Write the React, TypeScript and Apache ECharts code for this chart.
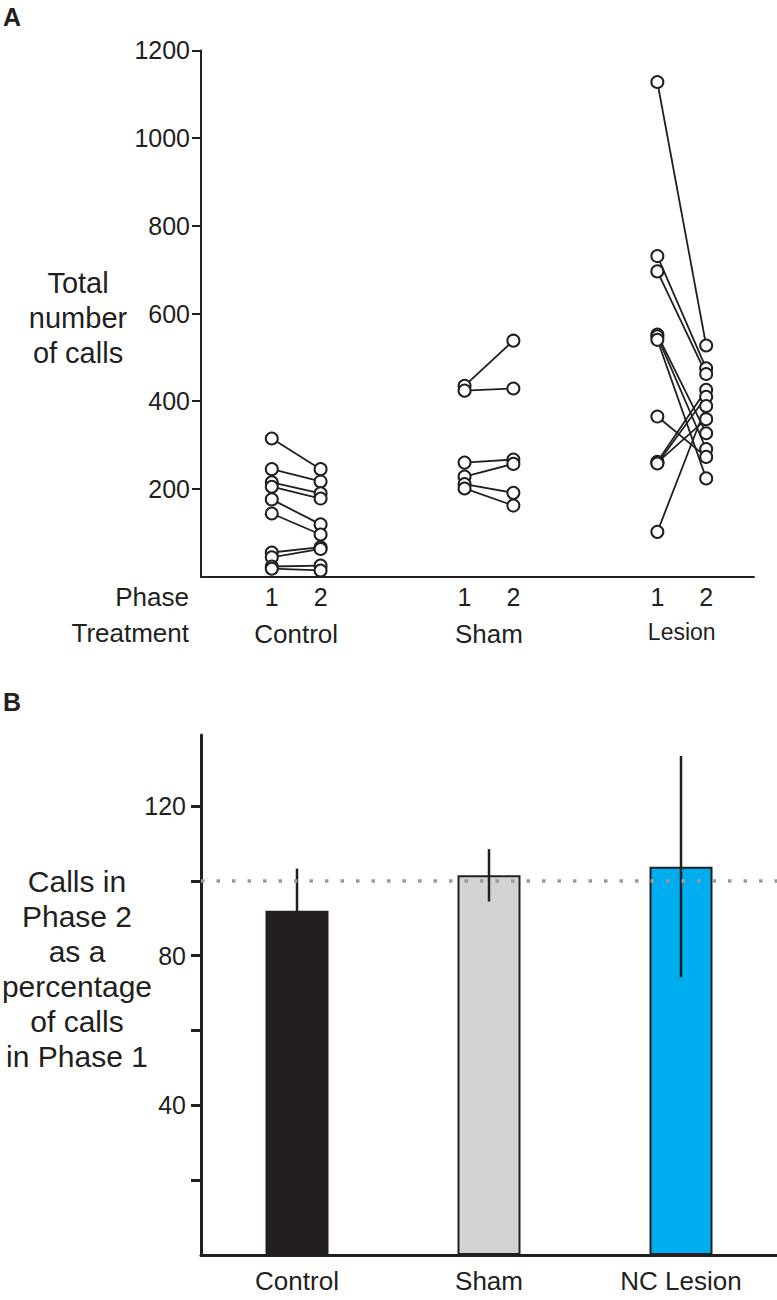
import React, { useEffect, useRef } from "react";
import * as echarts from "echarts";

// ---------- Panel A data ----------
const GROUPS = ["Control", "Sham", "Lesion"];
const PHASES = ["1", "2"];
const CONTROL_P1 = [315, 245, 215, 205, 176, 144, 55, 44, 23, 18];
const CONTROL_P2 = [245, 217, 190, 178, 119, 96, 67, 63, 25, 14];
const SHAM_P1 = [435, 424, 260, 228, 211, 201];
const SHAM_P2 = [538, 429, 267, 257, 191, 162];
const LESION_P1 = [1128, 731, 696, 552, 548, 540, 365, 262, 260, 258, 102];
const LESION_P2 = [527, 475, 462, 327, 291, 224, 273, 426, 359, 410, 389];
const Y_TICKS_A = [200, 400, 600, 800, 1000, 1200];

// ---------- Panel B data ----------
const BAR_CATEGORIES = ["Control", "Sham", "NC Lesion"];
const BAR_MEANS = [92, 101.5, 103.8];
const BAR_SEM = [11.3, 7, 29.6];
const REFERENCE_LINE = 100;
const Y_TICKS_B = [20, 40, 60, 80, 100, 120];
const Y_LABELS_B = [40, 80, 120];

const FONT = '"Liberation Sans", Arial, Helvetica, sans-serif';
const INK = "#231f20";

// x scale of panel A: group g, phase p -> position
const xPos = (g: number, p: number) => 1.45 + g * 3.95 + p;

export default function App() {
  const ref = useRef<HTMLDivElement>(null);

  useEffect(() => {
    if (!ref.current) return;
    const chart = echarts.init(ref.current, null, { renderer: "svg" });

    const groupData = [
      [CONTROL_P1, CONTROL_P2],
      [SHAM_P1, SHAM_P2],
      [LESION_P1, LESION_P2],
    ];

    const lineSeries: any[] = [];
    const points: number[][] = [];
    groupData.forEach(([p1, p2], g) => {
      p1.forEach((v, i) => {
        lineSeries.push({
          type: "line",
          xAxisIndex: 0,
          yAxisIndex: 0,
          data: [
            [xPos(g, 0), v],
            [xPos(g, 1), p2[i]],
          ],
          showSymbol: false,
          symbol: "none",
          lineStyle: { color: INK, width: 1.8 },
          z: 2,
          silent: true,
        });
        points.push([xPos(g, 0), v]);
        points.push([xPos(g, 1), p2[i]]);
      });
    });

    const phaseValues: number[] = [];
    const phaseLabels: Record<string, string> = {};
    GROUPS.forEach((_, g) =>
      PHASES.forEach((ph, p) => {
        phaseValues.push(xPos(g, p));
        phaseLabels[xPos(g, p).toFixed(3)] = ph;
      })
    );
    const groupValues = GROUPS.map((_, g) => (xPos(g, 0) + xPos(g, 1)) / 2);
    const groupLabels: Record<string, string> = {};
    GROUPS.forEach((name, g) => (groupLabels[groupValues[g].toFixed(3)] = name));

    const option: any = {
      animation: false,
      textStyle: { fontFamily: FONT, color: INK },
      grid: [
        { left: 201, top: 50.4, width: 553, height: 526.2 },
        { left: 201, top: 735, width: 576, height: 520 },
      ],
      xAxis: [
        {
          type: "value",
          gridIndex: 0,
          min: 0,
          max: 11.33,
          axisLine: { show: true, lineStyle: { color: INK, width: 2 } },
          axisTick: { show: false },
          splitLine: { show: false },
          axisLabel: {
            customValues: phaseValues,
            formatter: (v: number) => phaseLabels[v.toFixed(3)] ?? "",
            fontSize: 25,
            color: INK,
            fontFamily: FONT,
            margin: 8,
          },
        },
        {
          type: "value",
          gridIndex: 0,
          min: 0,
          max: 11.33,
          position: "bottom",
          axisLine: { show: false },
          axisTick: { show: false },
          splitLine: { show: false },
          axisLabel: {
            customValues: groupValues,
            formatter: (v: number) => {
              const n = groupLabels[v.toFixed(3)] ?? "";
              return n === "Lesion" ? "{s|" + n + "}" : "{n|" + n + "}";
            },
            margin: 44,
            rich: {
              n: { fontSize: 26, color: INK, fontFamily: FONT },
              s: { fontSize: 23, color: INK, fontFamily: FONT },
            },
          },
        },
        {
          type: "category",
          gridIndex: 1,
          data: BAR_CATEGORIES,
          axisLine: { show: true, lineStyle: { color: INK, width: 3 } },
          axisTick: { show: false },
          axisLabel: { fontSize: 26, color: INK, fontFamily: FONT, margin: 13 },
        },
      ],
      yAxis: [
        {
          type: "value",
          gridIndex: 0,
          min: 0,
          max: 1200,
          interval: 200,
          axisLine: { show: true, lineStyle: { color: INK, width: 2 } },
          axisTick: {
            show: true,
            customValues: Y_TICKS_A,
            length: 9,
            lineStyle: { color: INK, width: 2 },
          },
          splitLine: { show: false },
          axisLabel: {
            customValues: Y_TICKS_A,
            formatter: (v: number) => String(v),
            fontSize: 25,
            color: INK,
            fontFamily: FONT,
            margin: 11,
          },
        },
        {
          type: "value",
          gridIndex: 1,
          min: 0,
          max: 139,
          axisLine: { show: true, lineStyle: { color: INK, width: 3 } },
          axisTick: {
            show: true,
            customValues: Y_TICKS_B,
            length: 10,
            lineStyle: { color: INK, width: 3 },
          },
          splitLine: { show: false },
          axisLabel: {
            customValues: Y_LABELS_B,
            formatter: (v: number) => String(v),
            fontSize: 25,
            color: INK,
            fontFamily: FONT,
            margin: 15,
          },
        },
      ],
      graphic: [
        {
          type: "text",
          x: 3,
          y: 4,
          style: { text: "A", fontSize: 25, fontWeight: "bold", fontFamily: FONT, fill: INK },
        },
        {
          type: "text",
          x: 3,
          y: 689,
          style: { text: "B", fontSize: 25, fontWeight: "bold", fontFamily: FONT, fill: INK },
        },
        {
          type: "text",
          x: 78,
          y: 318,
          style: {
            text: "Total\nnumber\nof calls",
            fontSize: 29,
            lineHeight: 35,
            fontFamily: FONT,
            fill: INK,
            align: "center",
            verticalAlign: "middle",
          },
        },
        {
          type: "text",
          x: 77,
          y: 969,
          style: {
            text: "Calls in\nPhase 2\nas a\npercentage\nof calls\nin Phase 1",
            fontSize: 30,
            lineHeight: 35,
            fontFamily: FONT,
            fill: INK,
            align: "center",
            verticalAlign: "middle",
          },
        },
        {
          type: "text",
          x: 189,
          y: 597,
          style: { text: "Phase", fontSize: 26, fontFamily: FONT, fill: INK, align: "right", verticalAlign: "middle" },
        },
        {
          type: "text",
          x: 189,
          y: 633,
          style: { text: "Treatment", fontSize: 26, fontFamily: FONT, fill: INK, align: "right", verticalAlign: "middle" },
        },
      ],
      series: [
        ...lineSeries,
        {
          type: "scatter",
          xAxisIndex: 0,
          yAxisIndex: 0,
          data: points,
          symbol: "circle",
          symbolSize: 12,
          itemStyle: { color: "#ffffff", borderColor: INK, borderWidth: 2, opacity: 1 },
          z: 5,
          silent: true,
        },
        {
          type: "line",
          xAxisIndex: 2,
          yAxisIndex: 1,
          data: BAR_MEANS.map(() => REFERENCE_LINE),
          symbol: "none",
          lineStyle: { opacity: 0 },
          z: 1,
          silent: true,
          markLine: {
            silent: true,
            symbol: ["none", "none"],
            label: { show: false },
            lineStyle: { color: "#9a9a9a", width: 3.5, type: [3.5, 12] },
            data: [{ yAxis: REFERENCE_LINE }],
          },
        },
        {
          type: "bar",
          xAxisIndex: 2,
          yAxisIndex: 1,
          barWidth: 63,
          z: 3,
          data: BAR_MEANS.map((m, i) => ({
            value: m,
            itemStyle:
              i === 0
                ? { color: INK, borderColor: INK, borderWidth: 2 }
                : i === 1
                ? { color: "#d3d3d3", borderColor: INK, borderWidth: 2 }
                : { color: "#00adee", borderColor: INK, borderWidth: 2 },
          })),
          silent: true,
        },
        {
          type: "custom",
          xAxisIndex: 2,
          yAxisIndex: 1,
          z: 4,
          silent: true,
          data: BAR_MEANS.map((m, i) => [i, m - BAR_SEM[i], m + BAR_SEM[i]]),
          renderItem: (params: any, api: any) => {
            const x = api.value(0);
            const lo = api.coord([x, api.value(1)]);
            const hi = api.coord([x, api.value(2)]);
            return {
              type: "line",
              shape: { x1: lo[0], y1: lo[1], x2: hi[0], y2: hi[1] },
              style: { stroke: INK, lineWidth: 2.5 },
            };
          },
        },
      ],
    };

    chart.setOption(option);
    return () => chart.dispose();
  }, []);

  return (
    <div
      ref={ref}
      style={{ position: "absolute", left: 0, top: 0, width: 777, height: 1300, background: "#fff" }}
    />
  );
}
